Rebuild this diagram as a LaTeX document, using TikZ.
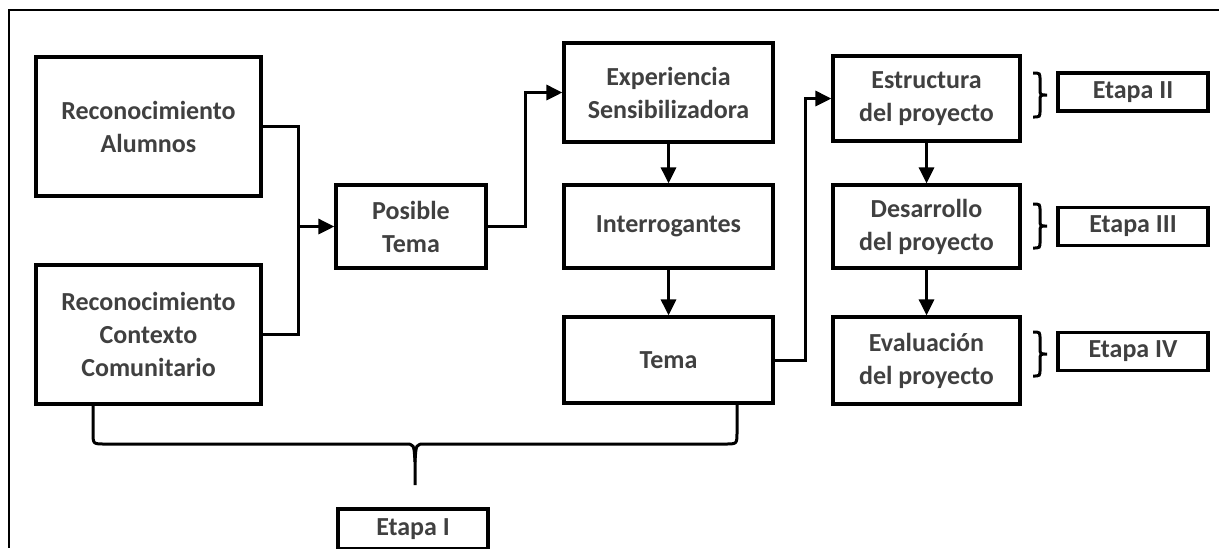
\documentclass[tikz,border=0pt]{standalone}
\usepackage{fontspec}
\setmainfont{Carlito}
\usepackage{tikz}
\usetikzlibrary{arrows.meta}
\definecolor{texto}{RGB}{64,64,64}

\begin{document}
\begin{tikzpicture}[x=0.5pt,y=-0.5pt]
      \tikzstyle{every node}+=[inner sep=0pt]
      \tikzstyle{caja}=[draw=black, line width=1.6pt, align=center, text=texto,
        font=\fontsize{13}{16.5}\selectfont\bfseries]
      \tikzstyle{linea}=[black, line width=1.5pt]
      \tikzstyle{flecha}=[linea, -{Triangle[length=8pt,width=7.5pt]}]
      \useasboundingbox (0,0) rectangle (1219,548);
      % marco
      \draw [black, line width=1.2pt] (1219,10) -- (9,10) -- (9,548);
      % cajas
      \node [caja, minimum width=112.5pt, minimum height=69.5pt] (alumnos) at (148.5,126.5) {Reconocimiento\\Alumnos};
      \node [caja, minimum width=112.5pt, minimum height=69.5pt] (contexto) at (148.5,334.5) {Reconocimiento\\Contexto\\Comunitario};
      \node [caja, minimum width=75pt, minimum height=41.5pt] (posible) at (411,226.5) {Posible\\Tema};
      \node [caja, minimum width=104.5pt, minimum height=49.5pt] (experiencia) at (668.5,92.5) {Experiencia\\Sensibilizadora};
      \node [caja, minimum width=104.5pt, minimum height=41.5pt] (interrogantes) at (668.5,226.5) {Interrogantes};
      \node [caja, minimum width=104.5pt, minimum height=43pt] (tema) at (668.5,360) {Tema};
      \node [caja, minimum width=93.5pt, minimum height=42.5pt] (estructura) at (926.5,98.5) {Estructura\\del proyecto};
      \node [caja, minimum width=93.5pt, minimum height=41.5pt] (desarrollo) at (926.5,226.5) {Desarrollo\\del proyecto};
      \node [caja, minimum width=93.5pt, minimum height=43.5pt] (evaluacion) at (926.5,360.5) {Evaluación\\del proyecto};
      \node [caja, minimum width=75pt, minimum height=19pt] (etapaII) at (1133,92) {Etapa II};
      \node [caja, minimum width=75pt, minimum height=19pt] (etapaIII) at (1133,226.5) {Etapa III};
      \node [caja, minimum width=75pt, minimum height=19pt] (etapaIV) at (1133,351.5) {Etapa IV};
      \node [caja, minimum width=75pt, minimum height=20pt] (etapaI) at (413,529) {Etapa I};
      % conexiones
      \coordinate (union) at (298,226.5);
      \coordinate (subida) at (525,226.5);
      \coordinate (salto) at (805,360);
      \draw [linea] (alumnos.east) -| (union) |- (contexto.east);
      \draw [flecha] (union) -- (posible.west);
      \draw [flecha] (posible.east) -- (subida) |- (experiencia.west);
      \draw [flecha] (experiencia.south) -- (interrogantes.north);
      \draw [flecha] (interrogantes.south) -- (tema.north);
      \draw [flecha] (tema.east) -- (salto) |- (estructura.west);
      \draw [flecha] (estructura.south) -- (desarrollo.north);
      \draw [flecha] (desarrollo.south) -- (evaluacion.north);
      % llaves
      \foreach \c in {95,226,354}
        \draw [linea] (1033,\c-22) .. controls (1040,\c-22) .. (1040,\c-15) -- (1040,\c-6)
          .. controls (1040,\c) .. (1047,\c) .. controls (1040,\c) .. (1040,\c+6) -- (1040,\c+15)
          .. controls (1040,\c+22) .. (1033,\c+22);
      \draw [linea] (93,404) -- (93,432) .. controls (93,444) .. (105,444) -- (405,444)
        .. controls (414,444) .. (415,462) -- (415,485);
      \draw [linea] (415,462) .. controls (416,444) .. (425,444) -- (725,444)
        .. controls (737,444) .. (737,432) -- (737,404);
\end{tikzpicture}
\end{document}
